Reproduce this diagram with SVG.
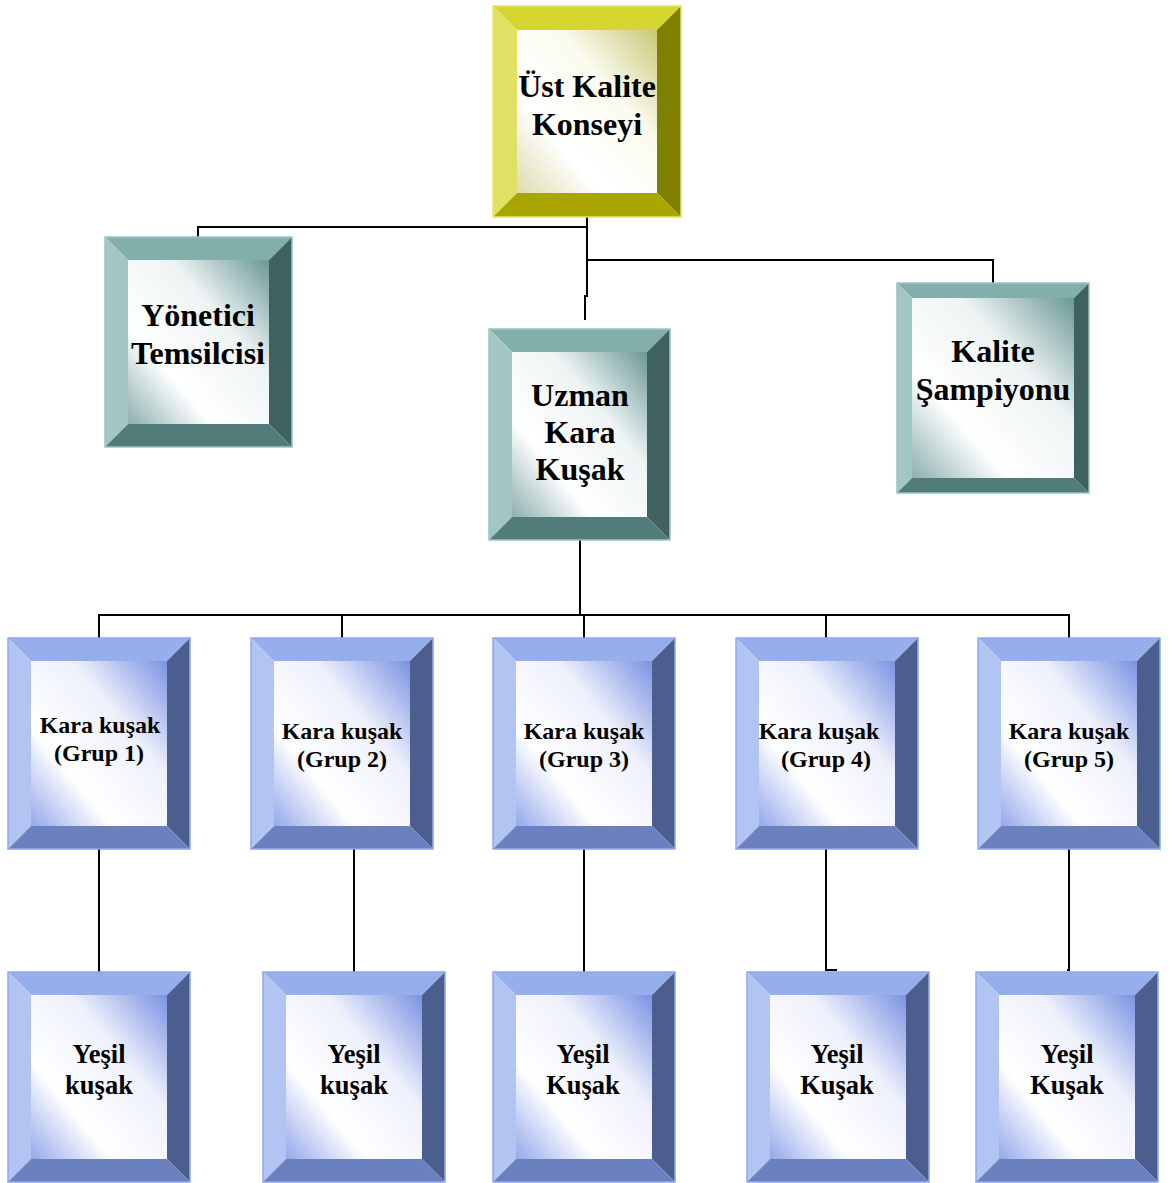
<svg xmlns="http://www.w3.org/2000/svg" width="1172" height="1183" viewBox="0 0 1172 1183">
<style>
.t{font-family:"Liberation Serif","Times New Roman",serif;font-weight:bold;fill:#000;text-anchor:middle}
.f31{font-size:32px}.f24{font-size:24px}.f26{font-size:26.5px}
.yt{fill:#d6d630}.yl{fill:#e0e064}.yr{fill:#7f7f00}.yb{fill:#a9a600}.yi{fill:url(#gy)}
.ct{fill:#82aeac}.cl{fill:#a2c6c4}.cr{fill:#3f6260}.cb{fill:#527c7a}.ci{fill:url(#gc)}
.bt{fill:#96aeec}.bl{fill:#b2c4f2}.br{fill:#4b5e8e}.bb{fill:#6b80bf}.bi{fill:url(#gb)}
.oy{fill:none;stroke:#e4e46a;stroke-width:1.5}
.oc{fill:none;stroke:#9cc4c2;stroke-width:1.5}
.ob{fill:none;stroke:#8ea8ec;stroke-width:1.5}
.ln{fill:none;stroke:#000;stroke-width:2}
</style>
<defs>
<linearGradient id="gy" x1="1" y1="0" x2="0" y2="1"><stop offset="0" stop-color="#c8c878"/><stop offset="0.35" stop-color="#fbfbf0"/><stop offset="0.7" stop-color="#ffffff"/><stop offset="1" stop-color="#dcdcae"/></linearGradient>
<linearGradient id="gc" x1="1" y1="0" x2="0" y2="1"><stop offset="0" stop-color="#6a9896"/><stop offset="0.35" stop-color="#eef4f4"/><stop offset="0.7" stop-color="#ffffff"/><stop offset="1" stop-color="#8cb0ae"/></linearGradient>
<linearGradient id="gb" x1="1" y1="0" x2="0" y2="1"><stop offset="0" stop-color="#7a92e2"/><stop offset="0.35" stop-color="#eef1fc"/><stop offset="0.7" stop-color="#ffffff"/><stop offset="1" stop-color="#94a8ea"/></linearGradient>
</defs>

<g id="connectors">
<path class="ln" d="M198,237 V227 H587"/>
<path class="ln" d="M587,217 V296 H585 V320"/>
<path class="ln" d="M587,260 H993 V283"/>
<path class="ln" d="M580,540 V615"/>
<path class="ln" d="M99,638 V615 H1069 V638"/>
<path class="ln" d="M342,615 V638 M584,615 V638 M826,615 V638"/>
<path class="ln" d="M99,849 V972 M354,849 V972 M584,849 V972"/>
<path class="ln" d="M826,849 V970 H837"/>
<path class="ln" d="M1069,849 V970 H1067"/>
</g>

<g id="node-ust-kalite">
<polygon class="yt" points="493,6 681,6 657,30 517,30"/>
<polygon class="yl" points="493,6 517,30 517,193 493,217"/>
<polygon class="yr" points="681,6 681,217 657,193 657,30"/>
<polygon class="yb" points="493,217 517,193 657,193 681,217"/>
<rect class="yi" x="517" y="30" width="140" height="163"/>
<rect class="oy" x="493" y="6" width="188" height="211"/>
<text class="t f31" x="587" y="97">Üst Kalite</text>
<text class="t f31" x="587" y="135">Konseyi</text>
</g>

<g id="node-yonetici">
<polygon class="ct" points="105,237 292,237 269,260 128,260"/>
<polygon class="cl" points="105,237 128,260 128,424 105,447"/>
<polygon class="cr" points="292,237 292,447 269,424 269,260"/>
<polygon class="cb" points="105,447 128,424 269,424 292,447"/>
<rect class="ci" x="128" y="260" width="141" height="164"/>
<rect class="oc" x="105" y="237" width="187" height="210"/>
<text class="t f31" x="198" y="326">Yönetici</text>
<text class="t f31" x="198" y="364">Temsilcisi</text>
</g>

<g id="node-uzman">
<polygon class="ct" points="489,329 670,329 647,352 512,352"/>
<polygon class="cl" points="489,329 512,352 512,517 489,540"/>
<polygon class="cr" points="670,329 670,540 647,517 647,352"/>
<polygon class="cb" points="489,540 512,517 647,517 670,540"/>
<rect class="ci" x="512" y="352" width="135" height="165"/>
<rect class="oc" x="489" y="329" width="181" height="211"/>
<text class="t f31" x="580" y="406">Uzman</text>
<text class="t f31" x="580" y="443">Kara</text>
<text class="t f31" x="580" y="480">Kuşak</text>
</g>

<g id="node-kalite-sampiyonu">
<polygon class="ct" points="897,283 1089,283 1074,298 912,298"/>
<polygon class="cl" points="897,283 912,298 912,478 897,493"/>
<polygon class="cr" points="1089,283 1089,493 1074,478 1074,298"/>
<polygon class="cb" points="897,493 912,478 1074,478 1089,493"/>
<rect class="ci" x="912" y="298" width="162" height="180"/>
<rect class="oc" x="897" y="283" width="192" height="210"/>
<text class="t f31" x="993" y="362">Kalite</text>
<text class="t f31" x="993" y="400">Şampiyonu</text>
</g>

<g id="node-kara-1">
<polygon class="bt" points="8,638 190,638 167,661 31,661"/>
<polygon class="bl" points="8,638 31,661 31,826 8,849"/>
<polygon class="br" points="190,638 190,849 167,826 167,661"/>
<polygon class="bb" points="8,849 31,826 167,826 190,849"/>
<rect class="bi" x="31" y="661" width="136" height="165"/>
<rect class="ob" x="8" y="638" width="182" height="211"/>
<text class="t f24" x="100" y="733">Kara kuşak</text>
<text class="t f24" x="99" y="761">(Grup 1)</text>
</g>

<g id="node-kara-2">
<polygon class="bt" points="251,638 433,638 410,661 274,661"/>
<polygon class="bl" points="251,638 274,661 274,826 251,849"/>
<polygon class="br" points="433,638 433,849 410,826 410,661"/>
<polygon class="bb" points="251,849 274,826 410,826 433,849"/>
<rect class="bi" x="274" y="661" width="136" height="165"/>
<rect class="ob" x="251" y="638" width="182" height="211"/>
<text class="t f24" x="342" y="739">Kara kuşak</text>
<text class="t f24" x="342" y="767">(Grup 2)</text>
</g>

<g id="node-kara-3">
<polygon class="bt" points="493,638 675,638 652,661 516,661"/>
<polygon class="bl" points="493,638 516,661 516,826 493,849"/>
<polygon class="br" points="675,638 675,849 652,826 652,661"/>
<polygon class="bb" points="493,849 516,826 652,826 675,849"/>
<rect class="bi" x="516" y="661" width="136" height="165"/>
<rect class="ob" x="493" y="638" width="182" height="211"/>
<text class="t f24" x="584" y="739">Kara kuşak</text>
<text class="t f24" x="584" y="767">(Grup 3)</text>
</g>

<g id="node-kara-4">
<polygon class="bt" points="736,638 918,638 895,661 759,661"/>
<polygon class="bl" points="736,638 759,661 759,826 736,849"/>
<polygon class="br" points="918,638 918,849 895,826 895,661"/>
<polygon class="bb" points="736,849 759,826 895,826 918,849"/>
<rect class="bi" x="759" y="661" width="136" height="165"/>
<rect class="ob" x="736" y="638" width="182" height="211"/>
<text class="t f24" x="819" y="739">Kara kuşak</text>
<text class="t f24" x="826" y="767">(Grup 4)</text>
</g>

<g id="node-kara-5">
<polygon class="bt" points="978,638 1160,638 1137,661 1001,661"/>
<polygon class="bl" points="978,638 1001,661 1001,826 978,849"/>
<polygon class="br" points="1160,638 1160,849 1137,826 1137,661"/>
<polygon class="bb" points="978,849 1001,826 1137,826 1160,849"/>
<rect class="bi" x="1001" y="661" width="136" height="165"/>
<rect class="ob" x="978" y="638" width="182" height="211"/>
<text class="t f24" x="1069" y="739">Kara kuşak</text>
<text class="t f24" x="1069" y="767">(Grup 5)</text>
</g>

<g id="node-yesil-1">
<polygon class="bt" points="8,972 190,972 167,995 31,995"/>
<polygon class="bl" points="8,972 31,995 31,1159 8,1182"/>
<polygon class="br" points="190,972 190,1182 167,1159 167,995"/>
<polygon class="bb" points="8,1182 31,1159 167,1159 190,1182"/>
<rect class="bi" x="31" y="995" width="136" height="164"/>
<rect class="ob" x="8" y="972" width="182" height="210"/>
<text class="t f26" x="99" y="1063">Yeşil</text>
<text class="t f26" x="99" y="1094">kuşak</text>
</g>

<g id="node-yesil-2">
<polygon class="bt" points="263,972 445,972 422,995 286,995"/>
<polygon class="bl" points="263,972 286,995 286,1159 263,1182"/>
<polygon class="br" points="445,972 445,1182 422,1159 422,995"/>
<polygon class="bb" points="263,1182 286,1159 422,1159 445,1182"/>
<rect class="bi" x="286" y="995" width="136" height="164"/>
<rect class="ob" x="263" y="972" width="182" height="210"/>
<text class="t f26" x="354" y="1063">Yeşil</text>
<text class="t f26" x="354" y="1094">kuşak</text>
</g>

<g id="node-yesil-3">
<polygon class="bt" points="493,972 675,972 652,995 516,995"/>
<polygon class="bl" points="493,972 516,995 516,1159 493,1182"/>
<polygon class="br" points="675,972 675,1182 652,1159 652,995"/>
<polygon class="bb" points="493,1182 516,1159 652,1159 675,1182"/>
<rect class="bi" x="516" y="995" width="136" height="164"/>
<rect class="ob" x="493" y="972" width="182" height="210"/>
<text class="t f26" x="583" y="1063">Yeşil</text>
<text class="t f26" x="583" y="1094">Kuşak</text>
</g>

<g id="node-yesil-4">
<polygon class="bt" points="747,972 929,972 906,995 770,995"/>
<polygon class="bl" points="747,972 770,995 770,1159 747,1182"/>
<polygon class="br" points="929,972 929,1182 906,1159 906,995"/>
<polygon class="bb" points="747,1182 770,1159 906,1159 929,1182"/>
<rect class="bi" x="770" y="995" width="136" height="164"/>
<rect class="ob" x="747" y="972" width="182" height="210"/>
<text class="t f26" x="837" y="1063">Yeşil</text>
<text class="t f26" x="837" y="1094">Kuşak</text>
</g>

<g id="node-yesil-5">
<polygon class="bt" points="976,972 1158,972 1135,995 999,995"/>
<polygon class="bl" points="976,972 999,995 999,1159 976,1182"/>
<polygon class="br" points="1158,972 1158,1182 1135,1159 1135,995"/>
<polygon class="bb" points="976,1182 999,1159 1135,1159 1158,1182"/>
<rect class="bi" x="999" y="995" width="136" height="164"/>
<rect class="ob" x="976" y="972" width="182" height="210"/>
<text class="t f26" x="1067" y="1063">Yeşil</text>
<text class="t f26" x="1067" y="1094">Kuşak</text>
</g>
</svg>
